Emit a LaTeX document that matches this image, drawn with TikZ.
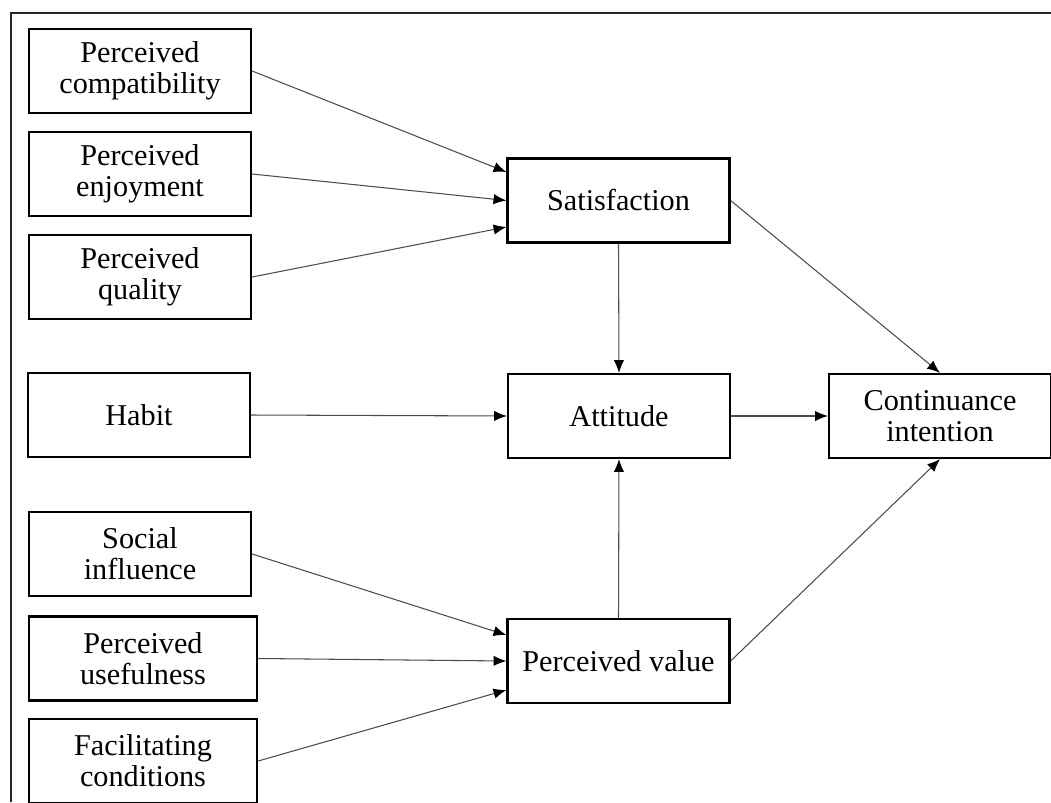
\documentclass[tikz,border=0pt]{standalone}
\usepackage{fontspec}
\setmainfont{Liberation Serif}
\usepackage{tikz}
\usetikzlibrary{arrows.meta,calc}

\begin{document}
\begin{tikzpicture}[x=0.025cm, y=-0.025cm]
			\tikzstyle{Factor}	= [rectangle, draw, line width=1.6pt, fill=white, minimum width=5.55cm, minimum height=2.1cm, inner sep=0pt, align=center, font=\fontsize{21.5}{22}\selectfont]
			\tikzstyle{Wide}	= [minimum width=5.7cm]
			\tikzstyle{Path}	= [line width=0.75pt, black!70, -{Latex[length=3.2mm, width=2.6mm, black]}]
			\tikzstyle{Frame}	= [line width=1.5pt, black!85]

			\useasboundingbox (0,0) rectangle (1051,802);
			\draw (1051,13) -- (11,13) -- (11,802) [Frame];

			% antecedents
			\node (comp) at (140,71) [Factor] {Perceived\\compatibility};
			\node (enjoy) at (140,174) [Factor] {Perceived\\enjoyment};
			\node (qual) at (140,277) [Factor] {Perceived\\quality};
			\node (habit) at (139,415) [Factor] {Habit};
			\node (soc) at (140,554) [Factor] {Social\\influence};
			\node (useful) at (143,658.5) [Factor][Wide] {Perceived\\usefulness};
			\node (facil) at (143,761) [Factor][Wide] {Facilitating\\conditions};

			% mediators and outcome
			\node (sat) at (618.5,200.5) [Factor] {Satisfaction};
			\node (att) at (619,416) [Factor] {Attitude};
			\node (pv) at (618.5,661) [Factor] {Perceived value};
			\node (cont) at (940,416) [Factor] {Continuance\\intention};

			\draw (comp.east) to ($(sat.west)+(0,-28.5)$) [Path];
			\draw (enjoy.east) to (sat.west) [Path];
			\draw (qual.east) to ($(sat.west)+(0,26.5)$) [Path];
			\draw (habit.east) to (att.west) [Path];
			\draw (soc.east) to ($(pv.west)+(0,-26)$) [Path];
			\draw (useful.east) to (pv.west) [Path];
			\draw (facil.east) to ($(pv.west)+(0,29)$) [Path];

			\draw (sat.south) to (att.north) [Path];
			\draw (pv.north) to (att.south) [Path];
			\draw (sat.east) to (cont.north) [Path];
			\draw (att.east) to (cont.west) [Path];
			\draw (pv.east) to (cont.south) [Path];
		\end{tikzpicture}
\end{document}
